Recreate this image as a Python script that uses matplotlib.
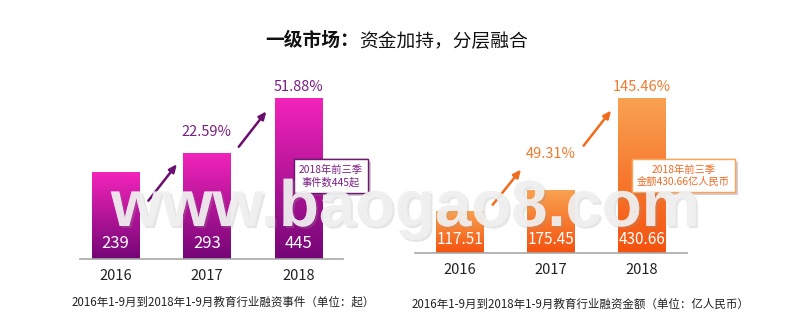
import numpy as np
import matplotlib
matplotlib.use("Agg")
import matplotlib.pyplot as plt
from matplotlib.colors import LinearSegmentedColormap
import matplotlib.patheffects as pe

plt.rcParams['font.family'] = ['Noto Sans CJK SC', 'DejaVu Sans']

# ---- data ----
years = ['2016', '2017', '2018']
events = [239, 293, 445]
event_growth = ['', '22.59%', '51.88%']
amounts = [117.51, 175.45, 430.66]
amount_growth = ['', '49.31%', '145.46%']
title_bold = '一级市场：'
title_rest = '资金加持，分层融合'
caption_left = '2016年1-9月到2018年1-9月教育行业融资事件（单位：起）'
caption_right = '2016年1-9月到2018年1-9月教育行业融资金额（单位：亿人民币）'
note_left = '2018年前三季\n事件数445起'
note_right = '2018年前三季\n金额430.66亿人民币'
watermark = 'www.baogao8.com'

W, H = 800, 334
fig = plt.figure(figsize=(W / 100, H / 100), dpi=100)
fig.patch.set_facecolor('white')


def ax_rect(x0, x1, ybase, ytop):
    return [x0 / W, 1 - ybase / H, (x1 - x0) / W, (ybase - ytop) / H]


def gradient_bars(ax, vals, width, ctop, cbot):
    cmap = LinearSegmentedColormap.from_list('g', [cbot, ctop])
    bars = ax.bar(range(len(vals)), vals, width=width, color='none', edgecolor='none', zorder=2)
    grad = np.linspace(0, 1, 256).reshape(-1, 1)
    for b in bars:
        x0, y0 = b.get_x(), b.get_y()
        x1, y1 = x0 + b.get_width(), y0 + b.get_height()
        im = ax.imshow(grad, extent=[x0, x1, y0, y1], origin='lower', aspect='auto',
                       cmap=cmap, zorder=2)
        im.set_clip_path(b)
    return bars


def style_axis(ax, xlim, ylim):
    ax.set_xlim(*xlim)
    ax.set_ylim(*ylim)
    for s in ['top', 'right', 'left']:
        ax.spines[s].set_visible(False)
    ax.spines['bottom'].set_color('#a8a8a8')
    ax.spines['bottom'].set_linewidth(1.2)
    ax.set_yticks([])
    ax.set_xticks(range(len(years)))
    ax.set_xticklabels(years, fontsize=10.5, color='#222222')
    ax.tick_params(axis='x', length=0, pad=7)
    ax.patch.set_alpha(0)


def note(ax, x, y, txt, tc, ec):
    t = ax.text(x, y, txt, ha='center', va='center', fontsize=7.4, color=tc,
                linespacing=1.3, zorder=5,
                bbox=dict(boxstyle='square,pad=0.5', fc='white', ec=ec, lw=1))
    t.get_bbox_patch().set_path_effects([
        pe.withSimplePatchShadow(offset=(2, -2), shadow_rgbFace='#8a6a8a', alpha=0.35),
        pe.Normal()])
    return t


# ---- left chart ----
axL = fig.add_axes(ax_rect(80, 343, 259, 78))
barsL = gradient_bars(axL, events, 0.515, '#f324bb', '#740676')
style_axis(axL, (-0.39, 2.49), (0, 500))
for i, v in enumerate(events):
    axL.annotate(str(v), (i, 0), xytext=(0, 11.5), textcoords='offset points',
                 ha='center', va='center', color='white', fontsize=12, zorder=4)
pct_off_L = [0, 15, 8]
for i, p in enumerate(event_growth):
    if p:
        axL.annotate(p, (i, events[i]), xytext=(0, pct_off_L[i]), textcoords='offset points',
                     ha='center', va='center', color='#7a1f82', fontsize=10.5, zorder=4)
arrowsL = [((0.34, 155), (0.69, 268)), ((1.33, 304), (1.67, 414))]
for (s, e) in arrowsL:
    axL.annotate('', xy=e, xytext=s,
                 arrowprops=dict(arrowstyle='-|>,head_length=0.45,head_width=0.2',
                                 color='#6b0f6e', lw=1.8), zorder=3)
note(axL, 2.355, 229, note_left, '#7a1f82', '#6b1a6e')

# ---- right chart ----
axR = fig.add_axes(ax_rect(415, 687, 253, 73))
barsR = gradient_bars(axR, amounts, 0.527, '#f9a352', '#f4520f')
style_axis(axR, (-0.495, 2.495), (0, 500))
for i, v in enumerate(amounts):
    axR.annotate(f'{v:.2f}', (i, 0), xytext=(0, 10), textcoords='offset points',
                 ha='center', va='center', color='white', fontsize=11, zorder=4)
pct_off_R = [0, 26, 8]
for i, p in enumerate(amount_growth):
    if p:
        axR.annotate(p, (i, amounts[i]), xytext=(0, pct_off_R[i]), textcoords='offset points',
                     ha='center', va='center', color='#f37a2c', fontsize=10.5, zorder=4)
arrowsR = [((0.34, 128), (0.69, 238)), ((1.34, 292), (1.68, 402))]
for (s, e) in arrowsR:
    axR.annotate('', xy=e, xytext=s,
                 arrowprops=dict(arrowstyle='-|>,head_length=0.45,head_width=0.2',
                                 color='#f26a1c', lw=1.8), zorder=3)
note(axR, 2.456, 214, note_right, '#f06a22', '#f7a55a')

# ---- titles and captions ----
fig.text(359 / W, 1 - 41 / H, title_bold, ha='right', va='center', fontsize=13.5,
         fontweight='bold', color='#111111')
fig.text(359 / W, 1 - 41 / H, title_rest, ha='left', va='center', fontsize=13.5,
         color='#111111')
fig.text(223 / W, 1 - 302 / H, caption_left, ha='center', va='center', fontsize=8.3,
         color='#222222')
fig.text(580 / W, 1 - 304 / H, caption_right, ha='center', va='center', fontsize=8.3,
         color='#222222')

# ---- watermark ----
fig.text(405 / W, 1 - 209 / H, watermark, ha='center', va='center', fontsize=47,
         fontweight='bold', family='Liberation Sans', color='#f0f0f0', alpha=0.75,
         path_effects=[pe.withSimplePatchShadow(offset=(1.5, -1.5), shadow_rgbFace='#999999',
                                                alpha=0.25), pe.Normal()], zorder=10)

fig.savefig('out.png', dpi=100, facecolor='white')
